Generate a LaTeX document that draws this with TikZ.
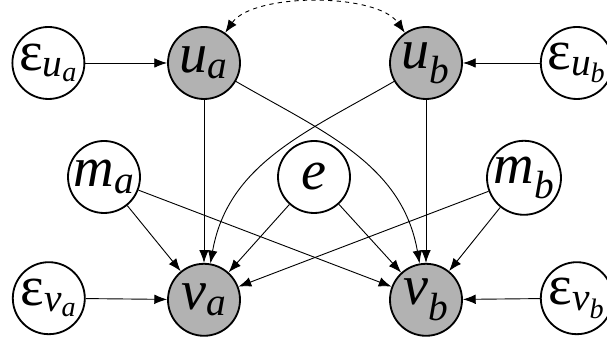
\documentclass[tikz,border=0pt]{standalone}
\usepackage{amsmath,amssymb}
\usepackage{fontspec}
\setmainfont{Liberation Serif}
\usepackage{tikz}
\usetikzlibrary{arrows.meta}

% 节点里的变量名：斜体字母加下标
\newcommand{\lbl}[2]{$\textit{#1}_{\textit{#2}}$}
\newcommand{\noise}[2]{$\text{ε}_{\textit{#1}_{\textit{#2}}}$}

\begin{document}
\begin{tikzpicture}[x=1cm,y=1cm,>={Latex[length=3.2mm,width=2.4mm]},
    var/.style={draw,circle,line width=1.3pt,minimum size=1.8cm,inner sep=0pt,
        font=\fontsize{40}{40}\selectfont},
    obs/.style={var,fill=black!30},
    edge/.style={->,line width=0.65pt}]

% 画布大小
\useasboundingbox (0,0) rectangle (15.175,8.525);

% 上面一行
\node[var] (eua) at (1.21,6.95) {\noise{u}{a}};
\node[obs] (ua) at (5.10,6.95) {\lbl{u}{a}};
\node[obs] (ub) at (10.65,6.95) {\lbl{u}{b}};
\node[var] (eub) at (14.42,6.95) {\noise{u}{b}};

% 中间一行
\node[var] (ma) at (2.60,4.10) {\lbl{m}{a}};
\node[var] (e) at (7.85,4.10) {\textit{e}};
\node[var] (mb) at (13.10,4.08) {\lbl{m}{b}};

% 下面一行
\node[var] (eva) at (1.22,1.07) {\noise{v}{a}};
\node[obs] (va) at (5.10,1.03) {\lbl{v}{a}};
\node[obs] (vb) at (10.65,1.03) {\lbl{v}{b}};
\node[var] (evb) at (14.42,1.07) {\noise{v}{b}};

% 噪声项
\draw[edge] (eua) -- (ua);
\draw[edge] (eub) -- (ub);
\draw[edge] (eva) -- (va);
\draw[edge] (evb) -- (vb);

% u 到 v
\draw[edge] (ua) -- (va);
\draw[edge] (ub) -- (vb);
\draw[edge] (ua) to[out=-30,in=100] (vb);
\draw[edge] (ub) to[out=210,in=80] (va);

% m 和 e 到 v
\draw[edge] (ma) -- (va);
\draw[edge] (ma) -- (vb);
\draw[edge] (mb) -- (vb);
\draw[edge] (mb) -- (va);
\draw[edge] (e) -- (va);
\draw[edge] (e) -- (vb);

% 虚线双向弧
\draw[<->,dashed,line width=0.65pt] (ua) to[out=55,in=125,looseness=0.7] (ub);

\end{tikzpicture}
\end{document}
